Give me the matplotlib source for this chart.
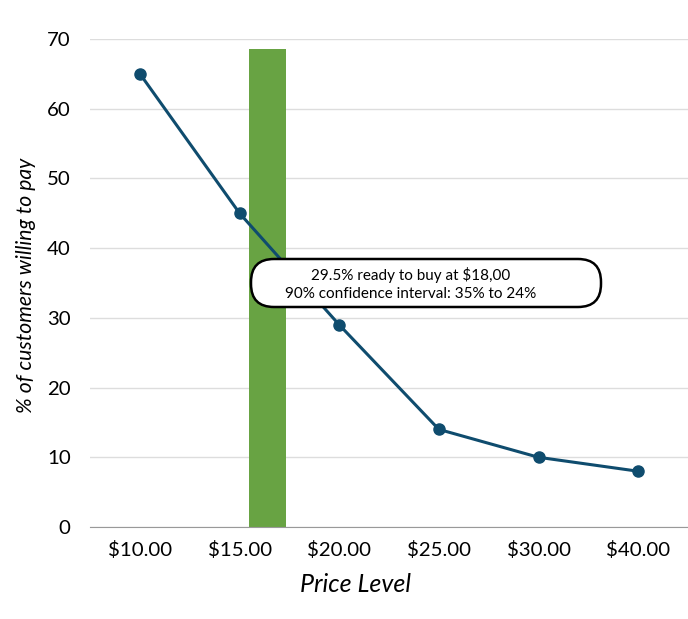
import matplotlib.pyplot as plt
import numpy as np
from matplotlib.patches import FancyBboxPatch
from matplotlib.transforms import IdentityTransform

prices = ["$10.00", "$15.00", "$20.00", "$25.00", "$30.00", "$40.00"]
pct = [65, 45, 29, 14, 10, 8]
yticks = [0, 10, 20, 30, 40, 50, 60, 70]
band_pos = 1.283   # between $15 and $20
band_width = 0.37
band_height = 68.5
note = "29.5% ready to buy at $18,00\n90% confidence interval: 35% to 24%"

plt.rcParams['font.family'] = ['Lato', 'DejaVu Sans']

fig = plt.figure(figsize=(6.88, 6.19), dpi=100)
ax = fig.add_axes([0.131, 0.1486, 0.869, 0.7884])

x = np.arange(len(prices))
ax.bar(band_pos, band_height, width=band_width, color="#68a343", zorder=2)
ax.plot(x, pct, color="#0f4c6e", lw=2.2, marker="o", ms=8, zorder=3)

ax.set_xlim(-0.5, 5.5)
ax.set_ylim(0, 70)
ax.set_xticks(x)
ax.set_xticklabels(prices, fontsize=14.7)
ax.set_yticks(yticks)
ax.set_yticklabels([str(v) for v in yticks], fontsize=14.7)
ax.tick_params(length=0, pad=10)
ax.tick_params(axis='y', pad=14)
ax.grid(axis='y', color="#dddddd", lw=1, zorder=0)
for s in ['top', 'right', 'left']:
    ax.spines[s].set_visible(False)
ax.spines['bottom'].set_color("#999999")
ax.spines['bottom'].set_zorder(4)

ax.set_xlabel("Price Level", fontsize=18, style='italic')
ax.xaxis.set_label_coords((355 - 90) / 598, (527 - 584) / 488, transform=ax.transAxes)
ax.xaxis.label.set_va('center')
ax.set_ylabel("% of customers willing to pay", fontsize=15.2, style='italic')
ax.yaxis.set_label_coords((26 - 90) / 598, 0.496)
ax.yaxis.label.set_va('center')

# annotation box (pixel coords, origin bottom-left)
H = 619
box = FancyBboxPatch((251, H - 307), 350, 48, boxstyle="round,pad=0,rounding_size=23",
                     transform=IdentityTransform(), facecolor="white", edgecolor="black",
                     lw=1.8, zorder=10)
fig.patches.append(box)
fig.text(411 / 688, 1 - 284 / H, note, ha='center', va='center',
         fontsize=11, linespacing=1.45, zorder=11)

fig.savefig("out.png", dpi=100)
